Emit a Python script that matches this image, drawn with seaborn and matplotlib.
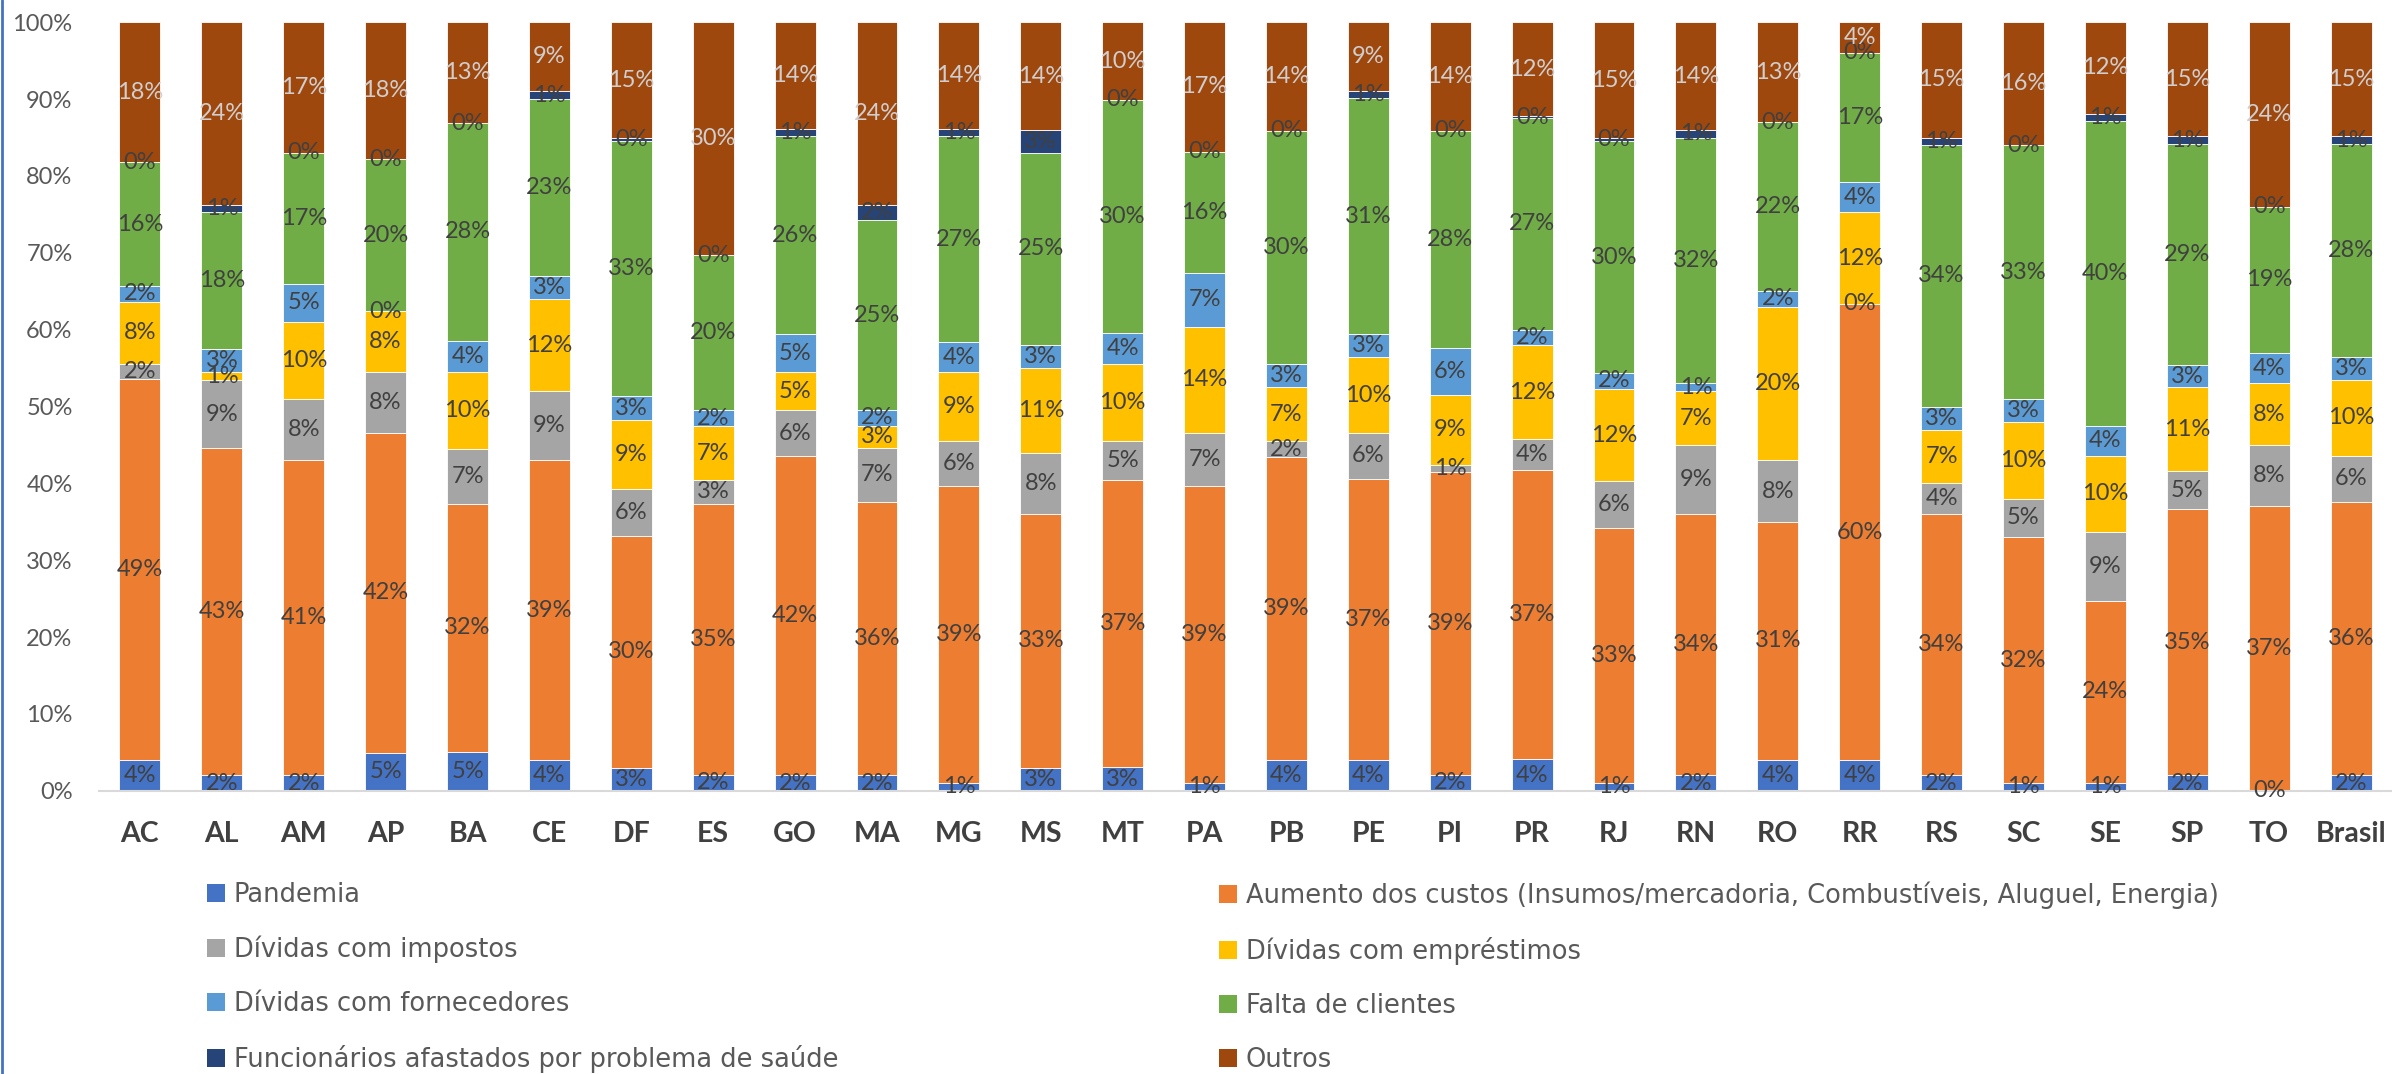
import matplotlib
matplotlib.use("Agg")
import matplotlib.pyplot as plt
from matplotlib.patches import Patch
from matplotlib.lines import Line2D
from matplotlib.ticker import PercentFormatter
import numpy as np
import seaborn as sns

# dados (% por UF)
estados = ['AC', 'AL', 'AM', 'AP', 'BA', 'CE', 'DF', 'ES', 'GO', 'MA', 'MG', 'MS', 'MT', 'PA',
           'PB', 'PE', 'PI', 'PR', 'RJ', 'RN', 'RO', 'RR', 'RS', 'SC', 'SE', 'SP', 'TO', 'Brasil']

pandemia = [4, 2, 2, 5, 5, 4, 3, 2, 2, 2, 1, 3, 3, 1, 4, 4, 2, 4, 1, 2, 4, 4, 2, 1, 1, 2, 0, 2]
custos = [49, 43, 41, 42, 32, 39, 30, 35, 42, 36, 39, 33, 37, 39, 39, 37, 39, 37, 33, 34, 31, 60, 34, 32, 24, 35, 37, 36]
impostos = [2, 9, 8, 8, 7, 9, 6, 3, 6, 7, 6, 8, 5, 7, 2, 6, 1, 4, 6, 9, 8, 0, 4, 5, 9, 5, 8, 6]
emprestimos = [8, 1, 10, 8, 10, 12, 9, 7, 5, 3, 9, 11, 10, 14, 7, 10, 9, 12, 12, 7, 20, 12, 7, 10, 10, 11, 8, 10]
fornecedores = [2, 3, 5, 0, 4, 3, 3, 2, 5, 2, 4, 3, 4, 7, 3, 3, 6, 2, 2, 1, 2, 4, 3, 3, 4, 3, 4, 3]
clientes = [16, 18, 17, 20, 28, 23, 33, 20, 26, 25, 27, 25, 30, 16, 30, 31, 28, 27, 30, 32, 22, 17, 34, 33, 40, 29, 19, 28]
funcionarios = [0, 1, 0, 0, 0, 1, 0.4, 0, 1, 2, 1, 3, 0, 0, 0, 1, 0, 0.3, 0.4, 1, 0, 0, 1, 0, 1, 1, 0, 1]
outros = [18, 24, 17, 18, 13, 9, 15, 30, 14, 24, 14, 14, 10, 17, 14, 9, 14, 12, 15, 14, 13, 4, 15, 16, 12, 15, 24, 15]

nomes = ['Pandemia',
         'Aumento dos custos (Insumos/mercadoria, Combustíveis, Aluguel, Energia)',
         'Dívidas com impostos',
         'Dívidas com empréstimos',
         'Dívidas com fornecedores',
         'Falta de clientes',
         'Funcionários afastados por problema de saúde',
         'Outros']
cores = ['#4472C4', '#ED7D31', '#A5A5A5', '#FFC000', '#5B9BD5', '#70AD47', '#264478', '#9E480E']

series = [pandemia, custos, impostos, emprestimos, fornecedores, clientes, funcionarios, outros]

sns.set_theme(style='white')
plt.rcParams['font.family'] = ['Lato', 'DejaVu Sans']

valores = np.array(series, dtype=float)
fracoes = valores / valores.sum(axis=0)

fig = plt.figure(figsize=(23.92, 10.74), dpi=100)
ax = fig.add_axes([99 / 2392, 1 - 790.7 / 1074, 1 - 99 / 2392, (790.7 - 22.3) / 1074])

base = np.zeros(len(estados))
for i, nome in enumerate(nomes):
    sns.barplot(x=estados, y=fracoes[i], order=estados, color=cores[i], saturation=1,
                width=0.5, bottom=base, errorbar=None, edgecolor='white', linewidth=0.6, ax=ax)
    cor_txt = '#D0CECE' if nome == 'Outros' else '#404040'
    textos = ['{:.0f}%'.format(v) for v in valores[i]]
    ax.bar_label(ax.containers[-1], labels=textos, label_type='center',
                 fontsize=17, color=cor_txt)
    base = base + fracoes[i]

ax.set_xlim(-0.5, len(estados) - 0.5)
ax.set_ylim(0, 1)
ax.set_yticks(np.arange(0, 1.01, 0.1))
ax.yaxis.set_major_formatter(PercentFormatter(1.0, decimals=0))
ax.set_xlabel('')
ax.set_ylabel('')
ax.tick_params(axis='y', length=0, pad=19, labelsize=17, labelcolor='#595959')
ax.tick_params(axis='x', length=0, pad=22, labelsize=20.5, labelcolor='#404040')
for t in ax.get_xticklabels():
    t.set_fontweight('bold')

sns.despine(ax=ax, top=True, right=True, left=True, bottom=False)
ax.spines['bottom'].set_color('#D9D9D9')
ax.spines['bottom'].set_linewidth(1.5)

# legenda em duas colunas, como no original
handles = [Patch(facecolor=c, edgecolor='none') for c in cores]
leg_kw = dict(loc='upper left', frameon=False, prop={'family': ['DejaVu Sans'], 'size': 18.5},
              borderpad=0, borderaxespad=0, handlelength=0.70, handleheight=0.70,
              handletextpad=0.35, labelspacing=1.08, labelcolor='#595959')
leg1 = fig.legend(handles[0::2], nomes[0::2], bbox_to_anchor=(207 / 2392, 0.179), **leg_kw)
leg2 = fig.legend(handles[1::2], nomes[1::2], bbox_to_anchor=(1219 / 2392, 0.179), **leg_kw)

fig.add_artist(Line2D([0.0008, 0.0008], [0, 1], transform=fig.transFigure, color='#4472C4', lw=2))

plt.savefig('out.png', dpi=100)
